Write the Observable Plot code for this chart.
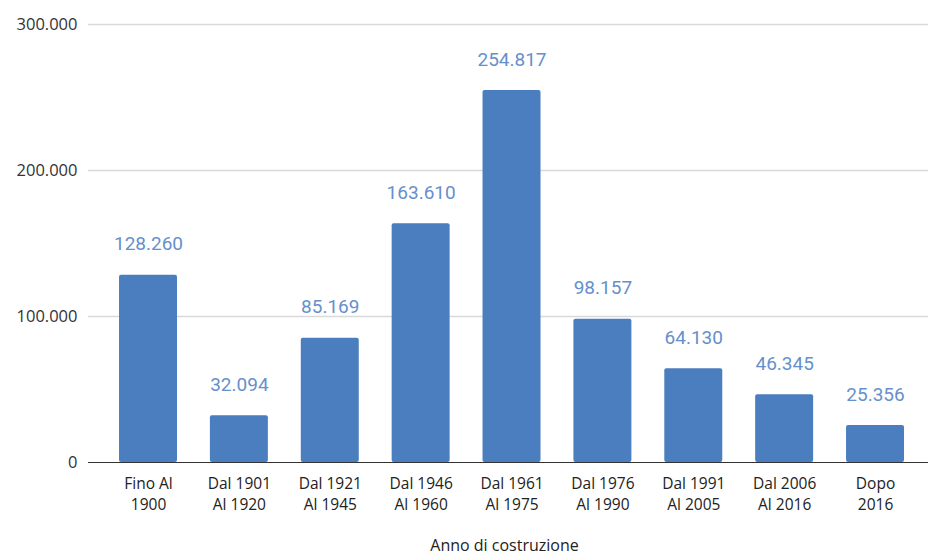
<!DOCTYPE html>
<html>
<head>
<meta charset="utf-8">
<script src="https://cdn.jsdelivr.net/npm/d3@7"></script>
<script src="https://cdn.jsdelivr.net/npm/@observablehq/plot@0.6"></script>
<style>
  html, body { margin: 0; padding: 0; background: #fff; }
</style>
</head>
<body>
<div id="chart"></div>
<script>
const categories = ["Fino Al\n1900", "Dal 1901\nAl 1920", "Dal 1921\nAl 1945", "Dal 1946\nAl 1960", "Dal 1961\nAl 1975", "Dal 1976\nAl 1990", "Dal 1991\nAl 2005", "Dal 2006\nAl 2016", "Dopo\n2016"];
const values = [128260, 32094, 85169, 163610, 254817, 98157, 64130, 46345, 25356];
const yTicks = [0, 100000, 200000, 300000];
const xTitle = "Anno di costruzione";

const fmt = d => d3.format(",")(d).replace(/,/g, ".");
const data = categories.map((c, i) => ({cat: c, value: values[i]}));

const barColor = "#4a7ebf";
const labelColor = "#6690cc";
const tickFont = "'Open Sans', sans-serif";

const chart = Plot.plot({
  width: 928,
  height: 558,
  marginLeft: 88,
  marginRight: 0,
  marginTop: 24,
  marginBottom: 96,
  style: {fontFamily: tickFont, fontSize: "16.5px", color: "#333", background: "#fff"},
  x: {domain: categories, axis: null, round: false, paddingInner: 0.362, paddingOuter: 0.3026, align: 0.564},
  y: {domain: [0, 300000], ticks: yTicks, tickFormat: fmt, tickSize: 0, tickPadding: 11, label: null},
  marks: [
    Plot.ruleY(yTicks.filter(d => d > 0), {stroke: "#d9d9d9", strokeWidth: 1.5}),
    Plot.barY(data, {x: "cat", y: "value", fill: barColor, rx: 2}),
    Plot.ruleY([0], {stroke: "#333", strokeWidth: 1}),
    Plot.text(data, {x: "cat", y: "value", text: d => fmt(d.value), dy: -31, fill: labelColor, fontSize: 19, fontFamily: "Roboto, sans-serif"}),
    Plot.text(data, {x: "cat", y: () => 0, text: "cat", lineAnchor: "top", dy: 11, fontSize: 15.5, lineHeight: 1.37, fill: "#222"}),
    Plot.text([xTitle], {text: d => d, frameAnchor: "bottom", dy: 88, dx: -4, fontSize: 16, fill: "#222"})
  ]
});
document.getElementById("chart").appendChild(chart);
</script>
</body>
</html>
